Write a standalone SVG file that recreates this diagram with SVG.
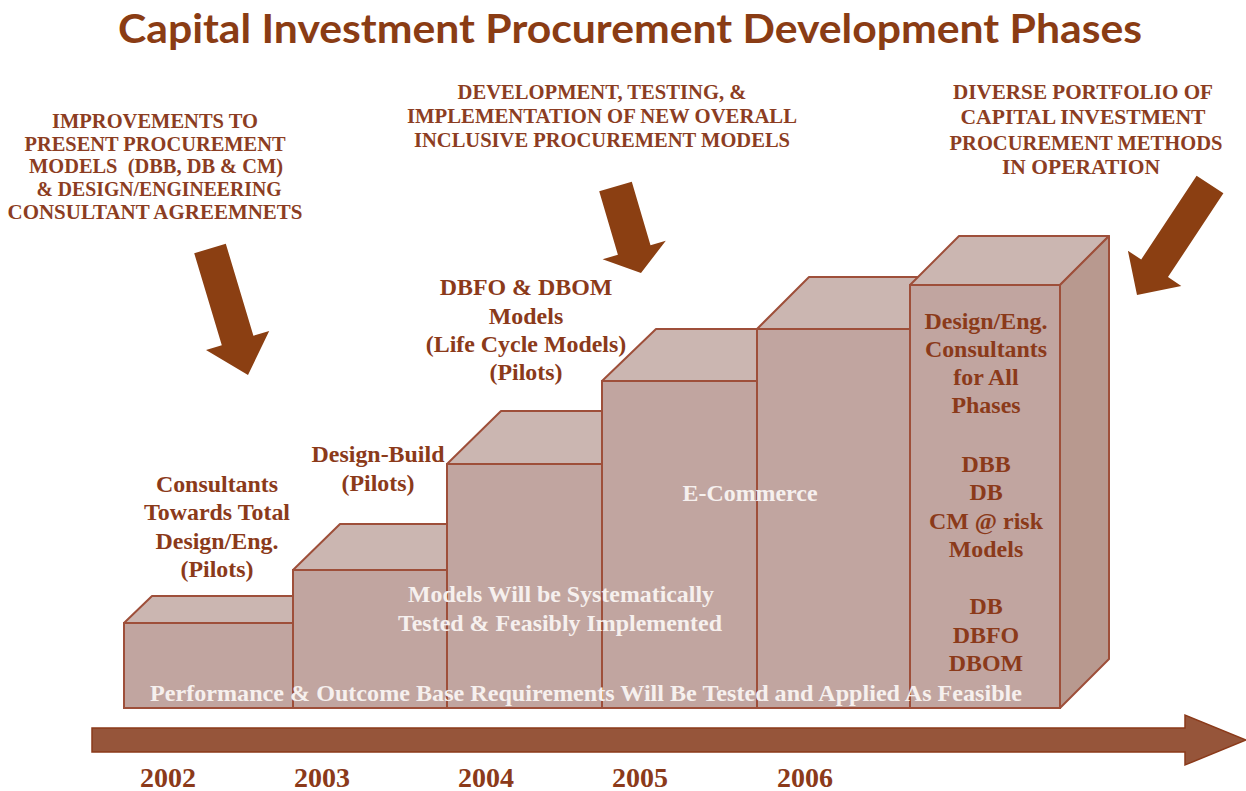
<svg xmlns="http://www.w3.org/2000/svg" width="1246" height="791" viewBox="0 0 1246 791">
<style>
.title{font-family:"Lato","Open Sans",sans-serif;font-weight:bold;font-size:40px;fill:#8A3C14}
.hdr{font-family:"Liberation Serif",serif;font-weight:bold;font-size:20.5px;fill:#8C3D22;text-anchor:middle}
.lbl{font-family:"Liberation Serif",serif;font-weight:bold;font-size:23px;fill:#8B3A1A;text-anchor:middle}
.wht{font-family:"Liberation Serif",serif;font-weight:bold;font-size:22.5px;fill:#F6F0EE;text-anchor:middle}
.yr{font-family:"Liberation Serif",serif;font-weight:bold;font-size:28px;fill:#8B3A1A;text-anchor:middle}
.front{fill:#C1A5A0;stroke:#9E4F3A;stroke-width:2}
.top{fill:#CBB6B1;stroke:#9E4F3A;stroke-width:2;stroke-linejoin:round}
.side{fill:#B8998F;stroke:#9E4F3A;stroke-width:2;stroke-linejoin:round}
.darr{fill:#8B3F12}
</style>
<rect width="1246" height="791" fill="#FFFFFF"/>
<text class="title" x="118" y="43" textLength="1024" lengthAdjust="spacingAndGlyphs">Capital Investment Procurement Development Phases</text>

<g id="header-left">
<text class="hdr" x="155" y="127.5" textLength="206" lengthAdjust="spacingAndGlyphs">IMPROVEMENTS TO</text>
<text class="hdr" x="155" y="150.5" textLength="261" lengthAdjust="spacingAndGlyphs">PRESENT PROCUREMENT</text>
<text class="hdr" x="156" y="173" textLength="254" lengthAdjust="spacingAndGlyphs" xml:space="preserve">MODELS  (DBB, DB &amp; CM)</text>
<text class="hdr" x="159" y="195.5" textLength="245" lengthAdjust="spacingAndGlyphs">&amp; DESIGN/ENGINEERING</text>
<text class="hdr" x="155" y="218.5" textLength="295" lengthAdjust="spacingAndGlyphs">CONSULTANT AGREEMNETS</text>
</g>
<g id="header-middle">
<text class="hdr" x="602" y="98.5" textLength="289" lengthAdjust="spacingAndGlyphs">DEVELOPMENT, TESTING, &amp;</text>
<text class="hdr" x="602" y="122.5" textLength="390" lengthAdjust="spacingAndGlyphs">IMPLEMENTATION OF NEW OVERALL</text>
<text class="hdr" x="602" y="146.5" textLength="376" lengthAdjust="spacingAndGlyphs">INCLUSIVE PROCUREMENT MODELS</text>
</g>
<g id="header-right">
<text class="hdr" x="1083" y="98.5" textLength="260" lengthAdjust="spacingAndGlyphs">DIVERSE PORTFOLIO OF</text>
<text class="hdr" x="1083" y="123.5" textLength="245" lengthAdjust="spacingAndGlyphs">CAPITAL INVESTMENT</text>
<text class="hdr" x="1086" y="149.5" textLength="273" lengthAdjust="spacingAndGlyphs">PROCUREMENT METHODS</text>
<text class="hdr" x="1081" y="173.5" textLength="158" lengthAdjust="spacingAndGlyphs">IN OPERATION</text>
</g>

<g id="pointers">
<polygon class="darr" points="194.2,253.2 225.8,243.7 253.4,335.8 269.2,331 248,375 206,350 221.8,345.3"/>
<polygon class="darr" points="599.2,191.3 631.8,181.7 650.5,245.2 665.8,240.7 641,273 602.6,259.3 617.9,254.8"/>
<polygon class="darr" points="1196.6,175.7 1223.4,193.3 1168,277.1 1181.3,285.9 1137,295 1127.9,250.7 1141.2,259.5"/>
</g>

<g id="bar-2002">
<polygon class="top" points="124,623 152,596 300,596 300,623"/>
<rect class="front" x="124" y="623" width="169" height="85"/>
</g>
<g id="bar-2003">
<polygon class="top" points="293,570 340,524 455,524 455,570"/>
<rect class="front" x="293" y="570" width="154" height="138"/>
</g>
<g id="bar-2004">
<polygon class="top" points="447,464 501,411 610,411 610,464"/>
<rect class="front" x="447" y="464" width="155" height="244"/>
</g>
<g id="bar-2005">
<polygon class="top" points="602,381 656,329 765,329 765,381"/>
<rect class="front" x="602" y="381" width="155" height="327"/>
</g>
<g id="bar-2006">
<polygon class="top" points="757,329 809,277 918,277 918,329"/>
<rect class="front" x="757" y="329" width="153" height="379"/>
</g>
<g id="bar-final">
<polygon class="top" points="910,285 959,236 1109,236 1060,285"/>
<polygon class="side" points="1060,285 1109,236 1109,659 1060,708"/>
<rect class="front" x="910" y="285" width="150" height="423"/>
</g>

<g id="label-2002" transform="translate(217,0) scale(1.04,1)">
<text class="lbl" x="0" y="492">Consultants</text>
<text class="lbl" x="0" y="520.5">Towards Total</text>
<text class="lbl" x="0" y="549.5">Design/Eng.</text>
<text class="lbl" x="0" y="577.5">(Pilots)</text>
</g>
<g id="label-2003" transform="translate(378,0) scale(1.04,1)">
<text class="lbl" x="0" y="462.5">Design-Build</text>
<text class="lbl" x="0" y="491.5">(Pilots)</text>
</g>
<g id="label-2004" transform="translate(526,0) scale(1.04,1)">
<text class="lbl" x="0" y="295.5">DBFO &amp; DBOM</text>
<text class="lbl" x="0" y="324.5">Models</text>
<text class="lbl" x="0" y="352.5">(Life Cycle Models)</text>
<text class="lbl" x="0" y="380.5">(Pilots)</text>
</g>
<g id="label-final" transform="translate(986,0) scale(1.04,1)">
<text class="lbl" x="0" y="329.5">Design/Eng.</text>
<text class="lbl" x="0" y="357.5">Consultants</text>
<text class="lbl" x="0" y="385.5">for All</text>
<text class="lbl" x="0" y="413.5">Phases</text>
<text class="lbl" x="0" y="472.5">DBB</text>
<text class="lbl" x="0" y="500.5">DB</text>
<text class="lbl" x="0" y="529.5">CM @ risk</text>
<text class="lbl" x="0" y="557.5">Models</text>
<text class="lbl" x="0" y="614.5">DB</text>
<text class="lbl" x="0" y="643.5">DBFO</text>
<text class="lbl" x="0" y="671.5">DBOM</text>
</g>

<g id="overlay-text">
<text class="wht" x="750" y="500.5" textLength="135" lengthAdjust="spacingAndGlyphs">E-Commerce</text>
<text class="wht" x="561" y="601.5" textLength="306" lengthAdjust="spacingAndGlyphs">Models Will be Systematically</text>
<text class="wht" x="560" y="630.5" textLength="324" lengthAdjust="spacingAndGlyphs">Tested &amp; Feasibly Implemented</text>
<text class="wht" x="586" y="700.5" textLength="872" lengthAdjust="spacingAndGlyphs">Performance &amp; Outcome Base Requirements Will Be Tested and Applied As Feasible</text>
</g>

<g id="timeline">
<polygon points="92,728 1185,728 1185,715 1246,740 1185,765 1185,752 92,752" fill="#96553A" stroke="#8B3A1A" stroke-width="1.5"/>
</g>
<g id="years">
<text class="yr" x="168" y="787">2002</text>
<text class="yr" x="322" y="787">2003</text>
<text class="yr" x="486" y="787">2004</text>
<text class="yr" x="640" y="787">2005</text>
<text class="yr" x="805" y="787">2006</text>
</g>
</svg>
